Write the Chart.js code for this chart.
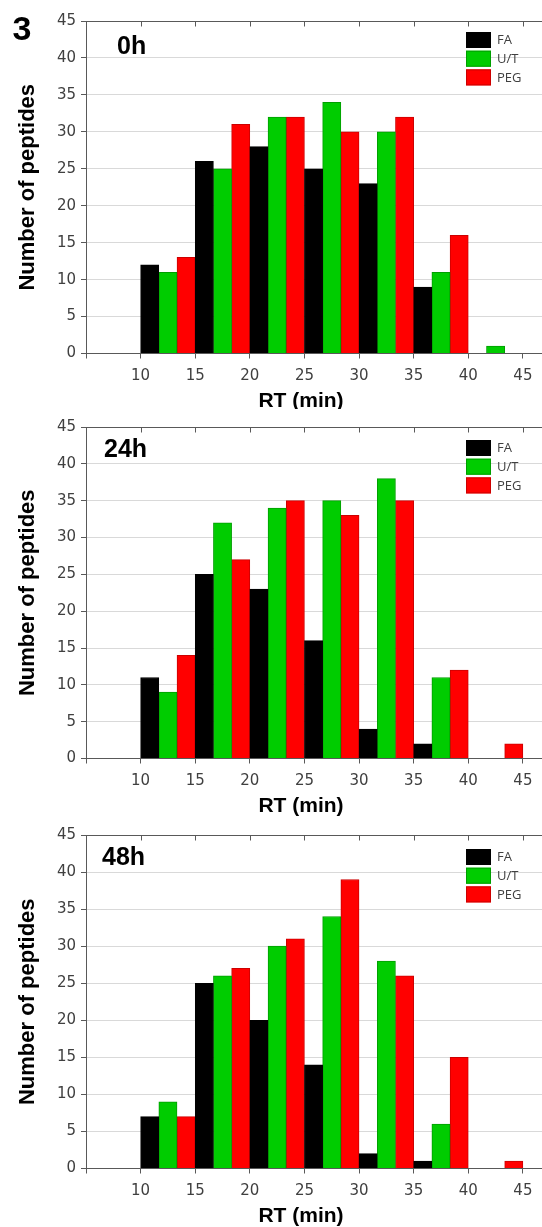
<!DOCTYPE html>
<html>
<head>
<meta charset="utf-8">
<script src="https://cdn.jsdelivr.net/npm/chart.js@4.4.0/dist/chart.umd.min.js"></script>
<style>
  html, body { margin: 0; padding: 0; background: #fff; }
  #wrap { position: relative; width: 542px; height: 1227px; overflow: hidden; }
  #wrap canvas { position: absolute; left: 0; }
</style>
</head>
<body>
<div id="wrap">
  <canvas id="c0" width="542" height="409" style="top:0px"></canvas>
  <canvas id="c1" width="542" height="409" style="top:409px"></canvas>
  <canvas id="c2" width="542" height="409" style="top:818px"></canvas>
</div>
<script>
// RT bins (centre of each 5-min bin)
const BIN_CENTERS = [12.5, 17.5, 22.5, 27.5, 32.5, 37.5, 42.5];
const X_TICKS = [5, 10, 15, 20, 25, 30, 35, 40, 45];
const SERIES = ['FA', 'U/T', 'PEG'];
const PANEL_LABELS = ['0h', '24h', '48h'];

// 0h
const FA_0H  = [12, 26, 28, 25, 23, 9, 0];
const UT_0H  = [11, 25, 32, 34, 30, 11, 1];
const PEG_0H = [13, 31, 32, 30, 32, 16, 0];
// 24h
const FA_24H  = [11, 25, 23, 16, 4, 2, 0];
const UT_24H  = [9, 32, 34, 35, 38, 11, 0];
const PEG_24H = [14, 27, 35, 33, 35, 12, 2];
// 48h
const FA_48H  = [7, 25, 20, 14, 2, 1, 0];
const UT_48H  = [9, 26, 30, 34, 28, 6, 0];
const PEG_48H = [7, 27, 31, 39, 26, 15, 1];

const PANELS = [
  [FA_0H, UT_0H, PEG_0H],
  [FA_24H, UT_24H, PEG_24H],
  [FA_48H, UT_48H, PEG_48H]
];

const FILL = ['#000000', '#00cc00', '#ff0000'];
const EDGE = ['#000000', '#009e00', '#cc0000'];
const AXIS = '#595959';
const GRID = '#d9d9d9';
const TICK_TXT = '#404040';

// layout of each panel inside its 409px canvas
const CHART_TOP = [21, 18, 17];
const CHART_BOTTOM = [353.5, 349.5, 350.5];
const LEGEND_DY = [11, 13, 14];
const LABEL_POS = [[117, 26], [104, 23], [102, 23]];

const decorations = {
  id: 'decorations',
  afterDraw(chart, args, opts) {
    const { ctx, chartArea: a, scales: { x } } = chart;
    ctx.save();
    // top frame with inward ticks
    ctx.strokeStyle = AXIS;
    ctx.lineWidth = 1;
    const ty = Math.round(a.top) + 0.5;
    ctx.beginPath();
    ctx.moveTo(a.left, ty);
    ctx.lineTo(a.right, ty);
    x.ticks.forEach(t => {
      const px = Math.round(x.getPixelForValue(t.value)) + 0.5;
      ctx.moveTo(px, ty);
      ctx.lineTo(px, ty + 5);
    });
    ctx.stroke();

    // legend
    ctx.font = '13px "Open Sans"';
    ctx.textBaseline = 'middle';
    ctx.textAlign = 'left';
    SERIES.forEach((s, i) => {
      const by = a.top + opts.legendDy + i * 18.7;
      ctx.fillStyle = FILL[i];
      ctx.fillRect(466, by, 25, 16);
      ctx.strokeStyle = EDGE[i];
      ctx.strokeRect(466.5, by + 0.5, 24, 15);
      ctx.fillStyle = TICK_TXT;
      ctx.fillText(s, 497, by + 8.5);
    });

    // panel label
    ctx.fillStyle = '#000';
    ctx.font = 'bold 25px "Liberation Sans"';
    ctx.fillText(opts.label, opts.labelPos[0], a.top + opts.labelPos[1]);

    if (opts.figNo) {
      ctx.font = 'bold 34px "Liberation Sans"';
      ctx.textAlign = 'center';
      ctx.fillText(opts.figNo, 22, 31);
    }

    // x axis title
    ctx.font = 'bold 21px "Liberation Sans"';
    ctx.textAlign = 'center';
    ctx.fillText('RT (min)', 301, a.bottom + 48);
    ctx.restore();
  }
};

Chart.defaults.font.family = '"DejaVu Sans"';

PANELS.forEach((series, p) => {
  const ctx = document.getElementById('c' + p).getContext('2d');
  new Chart(ctx, {
    type: 'bar',
    data: {
      datasets: series.map((vals, i) => ({
        label: SERIES[i],
        data: BIN_CENTERS.map((c, j) => ({ x: c, y: vals[j] === 0 ? null : vals[j] })),
        backgroundColor: FILL[i],
        borderColor: EDGE[i],
        borderWidth: 1,
        borderSkipped: 'start',
        barPercentage: 1,
        categoryPercentage: 1
      }))
    },
    options: {
      responsive: false,
      animation: false,
      layout: { padding: { top: CHART_TOP[p], left: 0, right: 0, bottom: 0 } },
      scales: {
        x: {
          type: 'linear',
          min: 5,
          max: 46.75,
          offset: false,
          z: 1,
          afterBuildTicks: s => { s.ticks = X_TICKS.map(v => ({ value: v })); },
          afterFit: s => { s.height = 409 - CHART_BOTTOM[p]; },
          ticks: {
            color: TICK_TXT,
            font: { size: 15 },
            padding: 9,
            maxRotation: 0,
            autoSkip: false,
            callback: v => (v === 5 ? '' : v)
          },
          grid: { offset: false, drawOnChartArea: false, tickColor: AXIS, tickLength: 5 },
          border: { color: AXIS, width: 1 }
        },
        y: {
          min: 0,
          max: 45,
          afterFit: s => { s.width = 86; },
          ticks: { stepSize: 5, color: TICK_TXT, font: { size: 15 }, padding: 5 },
          grid: { color: GRID, tickColor: AXIS, tickLength: 5 },
          border: { color: AXIS, width: 1 },
          title: {
            display: true,
            text: 'Number of peptides',
            color: '#000',
            font: { family: '"Liberation Sans"', size: 22, weight: 'bold' },
            padding: { top: 15, bottom: 0 }
          }
        }
      },
      plugins: {
        legend: { display: false },
        tooltip: { enabled: false },
        decorations: {
          label: PANEL_LABELS[p],
          labelPos: LABEL_POS[p],
          legendDy: LEGEND_DY[p],
          figNo: p === 0 ? '3' : ''
        }
      }
    },
    plugins: [decorations]
  });
});
</script>
</body>
</html>
